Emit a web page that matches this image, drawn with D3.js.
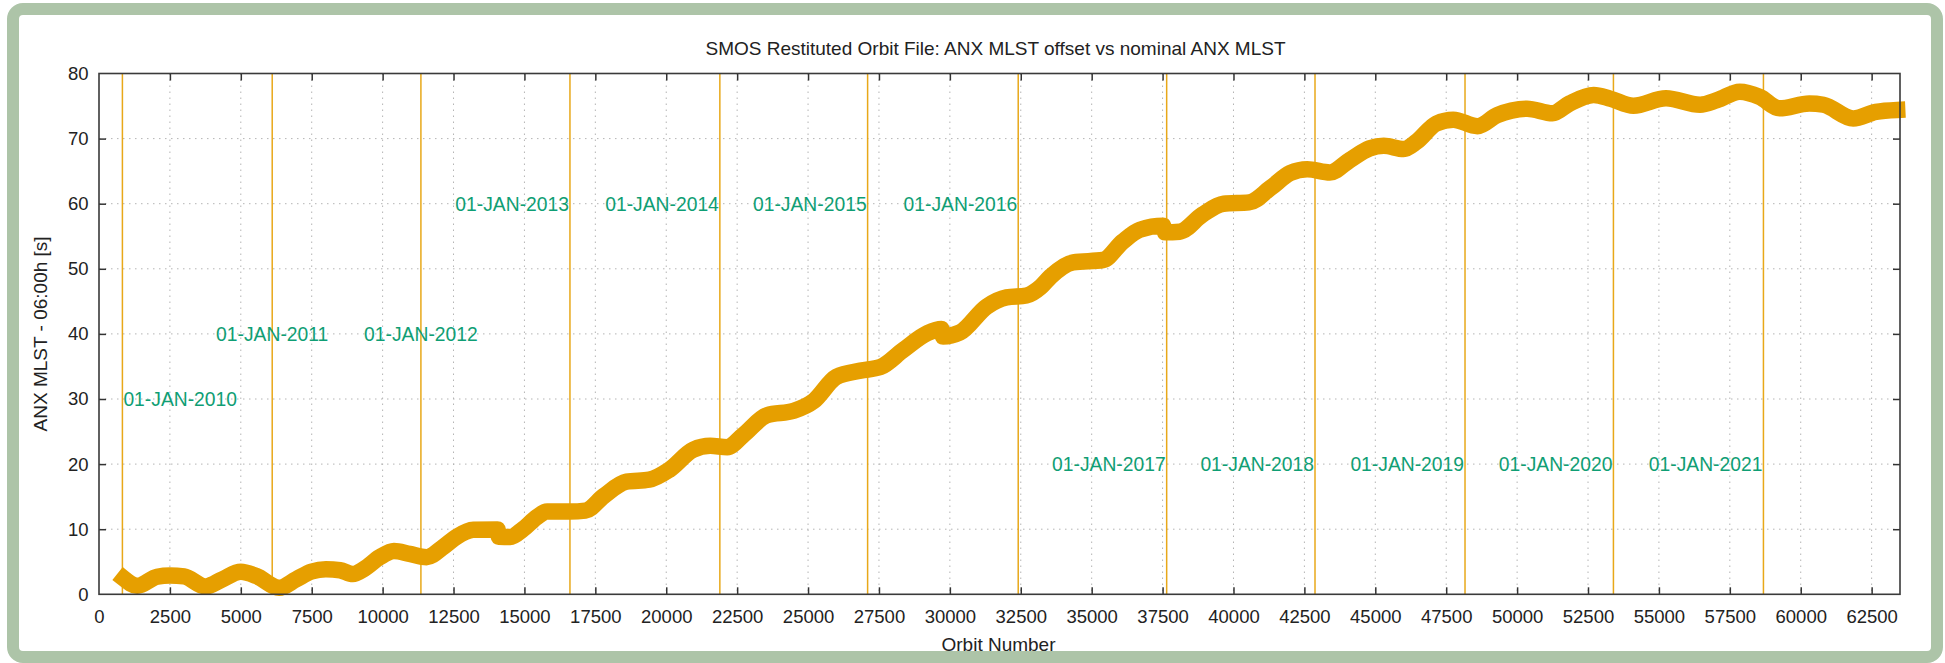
<!DOCTYPE html>
<html>
<head>
<meta charset="utf-8">
<script src="https://cdn.jsdelivr.net/npm/d3@7"></script>
<style>
  html, body { margin: 0; padding: 0; background: #ffffff; }
  svg { display: block; }
  text { font-family: "Liberation Sans", Arial, Helvetica, sans-serif; fill: #222; }
</style>
</head>
<body>
<svg id="chart" width="1945" height="663"></svg>
<script>
// ---- data ----
const orbitNumber = [880,1350,2050,2500,3000,3750,4350,5000,5550,6350,6950,7500,8000,8500,8950,9350,9900,10400,10950,11550,12150,12600,13200,14050,14100,14500,14950,15450,15800,16600,17150,17800,18600,19400,20100,20950,21550,22150,22700,23550,24500,25200,26000,26850,27550,28350,29200,29700,29760,30350,31300,32000,32700,33200,33550,34350,35400,36100,36700,37520,37590,38100,38900,39650,40550,41300,42000,42600,43400,44100,44800,45300,46000,46450,47150,47750,48600,49300,49800,50350,51250,51850,52700,53300,54100,55250,56450,57050,57850,58550,59250,60300,60800,61850,62650,63400];
const mlstOffset  = [2.4,1.3,2.7,2.9,2.75,1.2,2.3,3.45,2.8,1.0,2.3,3.5,3.85,3.7,3.1,3.9,5.7,6.65,6.2,5.7,7.3,8.8,9.9,9.95,8.85,8.8,10.0,11.9,12.7,12.7,12.85,15.1,17.3,17.6,19.1,22.2,22.8,22.6,24.4,27.5,28.2,29.7,33.4,34.35,34.9,37.5,40.1,40.75,39.6,40.2,44.2,45.6,45.9,47.2,48.8,51.0,51.35,54.2,56.0,56.6,55.6,55.7,58.3,60.0,60.2,62.4,64.7,65.3,64.8,66.7,68.5,68.9,68.4,69.5,72.3,72.9,71.9,73.6,74.3,74.6,73.9,75.4,76.7,76.1,75.05,76.2,75.2,75.9,77.2,76.4,74.65,75.4,75.2,73.1,74.1,74.4];

const years       = [2010,2011,2012,2013,2014,2015,2016,2017,2018,2019,2020,2021];
const yearOrbits  = [825,6107,11350,16605,21890,27100,32410,37644,42874,48163,53396,58685];
const yearLabelY  = [30,40,40,60,60,60,60,20,20,20,20,20];

const xTickValues = d3.range(0, 62501, 2500);
const yTickValues = d3.range(0, 81, 10);

const titleText = "SMOS Restituted Orbit File: ANX MLST offset vs nominal ANX MLST";
const xTitle = "Orbit Number";
const yTitle = "ANX MLST - 06:00h [s]";

// ---- layout ----
const plot = { left: 99, right: 1900, top: 73.5, bottom: 594.3 };
const orange = "#e69f00", green = "#0f9e74";

const svg = d3.select("#chart");

// outer rounded green frame
svg.append("rect")
  .attr("x", 13).attr("y", 9).attr("width", 1924).attr("height", 648)
  .attr("rx", 10).attr("ry", 10)
  .attr("fill", "#ffffff").attr("stroke", "#adc4a8").attr("stroke-width", 12);

const x = d3.scaleLinear().domain([0, 63500]).range([plot.left, plot.right]);
const y = d3.scaleLinear().domain([0, 80]).range([plot.bottom, plot.top]);

const g = svg.append("g");

// grid
g.append("g").selectAll("line").data(xTickValues.filter(d => d > 0)).join("line")
  .attr("x1", d => x(d)).attr("x2", d => x(d))
  .attr("y1", plot.top).attr("y2", plot.bottom)
  .attr("stroke", "#b4b4b4").attr("stroke-width", 1).attr("stroke-dasharray", "1.5,4.5");
g.append("g").selectAll("line").data(yTickValues.filter(d => d > 0 && d < 80)).join("line")
  .attr("x1", plot.left).attr("x2", plot.right)
  .attr("y1", d => y(d)).attr("y2", d => y(d))
  .attr("stroke", "#b4b4b4").attr("stroke-width", 1).attr("stroke-dasharray", "1.5,4.5");

// year marker lines
g.append("g").selectAll("line").data(yearOrbits).join("line")
  .attr("x1", d => x(d)).attr("x2", d => x(d))
  .attr("y1", plot.top).attr("y2", plot.bottom)
  .attr("stroke", orange).attr("stroke-width", 1.5).attr("stroke-opacity", 0.9);

// data curve
const pts = orbitNumber.map((o, i) => [o, mlstOffset[i]]);
const line = d3.line().x(d => x(d[0])).y(d => y(d[1])).curve(d3.curveMonotoneX);
g.append("path").datum(pts)
  .attr("d", line)
  .attr("fill", "none").attr("stroke", orange)
  .attr("stroke-width", 16.5).attr("stroke-linejoin", "round").attr("stroke-linecap", "square");

// year labels
const anchorFor = yr => yr === 2010 ? "start" : (yr <= 2012 ? "middle" : "end");
g.append("g").selectAll("text").data(years).join("text")
  .attr("x", (d, i) => x(yearOrbits[i]) + (anchorFor(d) === "start" ? 1 : (anchorFor(d) === "end" ? -1 : 0)))
  .attr("y", (d, i) => y(yearLabelY[i]))
  .attr("dy", "0.36em")
  .attr("text-anchor", d => anchorFor(d))
  .style("font-size", "19.3px")
  .style("fill", green)
  .text(d => "01-JAN-" + d);

// axes (ticks inward, mirrored)
const tickLen = 7;
const axB = g.append("g").attr("transform", `translate(0,${plot.bottom})`)
  .call(d3.axisBottom(x).tickValues(xTickValues).tickSize(-tickLen).tickPadding(15.5).tickFormat(d3.format("d")));
const axT = g.append("g").attr("transform", `translate(0,${plot.top})`)
  .call(d3.axisTop(x).tickValues(xTickValues.filter(d => d > 0)).tickSize(-tickLen).tickFormat(""));
const axL = g.append("g").attr("transform", `translate(${plot.left},0)`)
  .call(d3.axisLeft(y).tickValues(yTickValues).tickSize(-tickLen).tickPadding(10.5).tickFormat(d3.format("d")));
const axR = g.append("g").attr("transform", `translate(${plot.right},0)`)
  .call(d3.axisRight(y).tickValues(yTickValues.filter(d => d > 0 && d < 80)).tickSize(-tickLen).tickFormat(""));

[axB, axT, axL, axR].forEach(a => {
  a.select(".domain").remove();
  a.selectAll(".tick line").attr("stroke", "#333").attr("stroke-width", 1.5);
  a.selectAll(".tick text").style("font-size", "18.5px").style("font-family", "'Liberation Sans', Arial, sans-serif").attr("fill", "#222");
});
axB.selectAll(".tick").filter(d => d === 0).select("line").remove();
axL.selectAll(".tick").filter(d => d === 0 || d === 80).select("line").remove();

// plot border
g.append("rect")
  .attr("x", plot.left).attr("y", plot.top)
  .attr("width", plot.right - plot.left).attr("height", plot.bottom - plot.top)
  .attr("fill", "none").attr("stroke", "#3a3a3a").attr("stroke-width", 1.6);

// titles
svg.append("text").attr("x", (plot.left + plot.right) / 2 - 4).attr("y", 55)
  .attr("text-anchor", "middle").style("font-size", "19px").text(titleText);
svg.append("text").attr("x", (plot.left + plot.right) / 2 - 1).attr("y", 651)
  .attr("text-anchor", "middle").style("font-size", "19px").text(xTitle);
svg.append("text").attr("transform", `translate(47,${(plot.top + plot.bottom) / 2}) rotate(-90)`)
  .attr("text-anchor", "middle").style("font-size", "19px").text(yTitle);
</script>
</body>
</html>
